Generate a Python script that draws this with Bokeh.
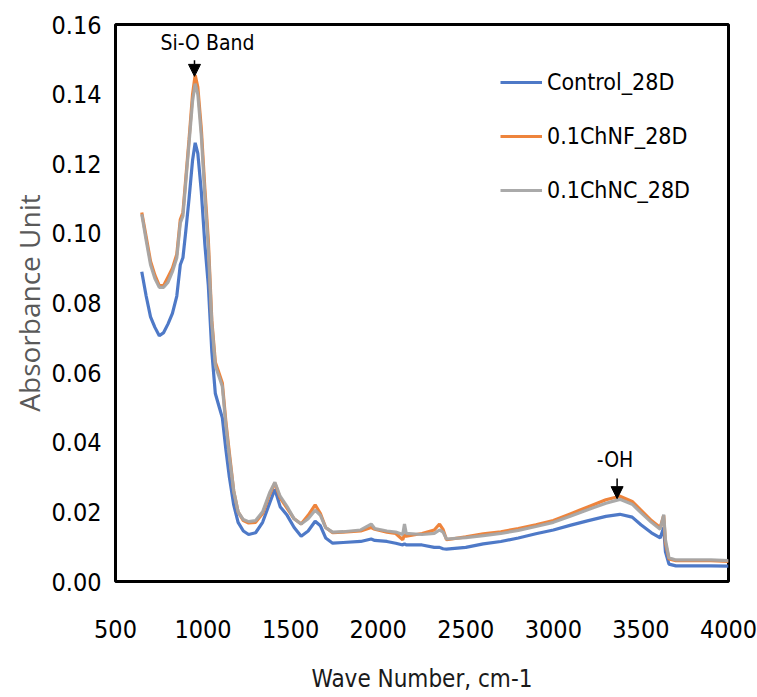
from bokeh.plotting import figure
from bokeh.models import (Range1d, SingleIntervalTicker, NumeralTickFormatter,
                          Legend, LegendItem, Arrow, NormalHead, Label)
from bokeh.embed import file_html
from bokeh.resources import INLINE

# ---------------- data ----------------
wave_number = [650, 675, 700, 725, 750, 775, 800, 825, 850, 870, 885, 900, 920, 940, 955,
               970, 990, 1010, 1030, 1050, 1070, 1090, 1110, 1130, 1150, 1175, 1200, 1230,
               1260, 1300, 1340, 1380, 1410, 1440, 1480, 1520, 1560, 1600, 1640, 1670, 1700,
               1740, 1800, 1900, 1960, 1980, 2050, 2100, 2140, 2150, 2160, 2250, 2320, 2350,
               2370, 2390, 2500, 2600, 2700, 2800, 2900, 3000, 3100, 3200, 3300, 3380, 3450,
               3500, 3560, 3610, 3630, 3640, 3660, 3700, 3800, 3900, 4000]

control_28d = [0.089, 0.082, 0.076, 0.073, 0.0706, 0.0715, 0.074, 0.077, 0.082, 0.091, 0.093,
               0.100, 0.110, 0.121, 0.126, 0.123, 0.112, 0.097, 0.085, 0.066, 0.054, 0.0505,
               0.047, 0.038, 0.030, 0.022, 0.017, 0.0145, 0.0135, 0.014, 0.017, 0.0225, 0.0265,
               0.0215, 0.019, 0.0155, 0.013, 0.0145, 0.0173, 0.016, 0.0125, 0.011, 0.0112,
               0.0115, 0.0122, 0.0118, 0.0115, 0.011, 0.0105, 0.0108, 0.0105, 0.0105, 0.0098,
               0.0098, 0.0094, 0.0093, 0.0098, 0.0108, 0.0115, 0.0125, 0.0137, 0.0148, 0.0162,
               0.0175, 0.0187, 0.0193, 0.0185, 0.0163, 0.014, 0.0125, 0.0155, 0.0085, 0.005,
               0.0045, 0.0045, 0.0045, 0.0044]

chnf_28d = [0.106, 0.099, 0.092, 0.088, 0.085, 0.085, 0.0875, 0.090, 0.094, 0.104, 0.106,
            0.115, 0.127, 0.140, 0.1455, 0.142, 0.130, 0.113, 0.098, 0.075, 0.063, 0.060,
            0.057, 0.046, 0.037, 0.026, 0.020, 0.0175, 0.0168, 0.017, 0.0195, 0.025, 0.0283,
            0.024, 0.021, 0.018, 0.0165, 0.019, 0.022, 0.0195, 0.0155, 0.014, 0.0142, 0.0145,
            0.0155, 0.015, 0.0142, 0.0138, 0.012, 0.0135, 0.013, 0.0138, 0.0148, 0.0165,
            0.015, 0.012, 0.0128, 0.0137, 0.0143, 0.0152, 0.0163, 0.0175, 0.0195, 0.0215,
            0.0235, 0.0245, 0.023, 0.0205, 0.0175, 0.0155, 0.019, 0.011, 0.0065, 0.006,
            0.006, 0.006, 0.0058]

chnc_28d = [0.1055, 0.098, 0.091, 0.087, 0.0845, 0.0845, 0.086, 0.089, 0.093, 0.103, 0.105,
            0.114, 0.126, 0.138, 0.143, 0.140, 0.128, 0.111, 0.096, 0.074, 0.062, 0.059,
            0.056, 0.045, 0.036, 0.026, 0.020, 0.0178, 0.0172, 0.0175, 0.020, 0.0255, 0.0285,
            0.0245, 0.0215, 0.018, 0.0165, 0.018, 0.0205, 0.019, 0.0155, 0.0142, 0.0143,
            0.0148, 0.0165, 0.0152, 0.0145, 0.0142, 0.0135, 0.0165, 0.0138, 0.0135, 0.0138,
            0.0148, 0.0142, 0.0122, 0.0126, 0.0132, 0.0138, 0.0147, 0.0158, 0.017, 0.0188,
            0.0207, 0.0225, 0.0236, 0.0222, 0.0198, 0.017, 0.015, 0.0192, 0.012, 0.0068,
            0.0062, 0.0062, 0.0062, 0.006]

series_names = ["Control_28D", "0.1ChNF_28D", "0.1ChNC_28D"]

ann_labels = ["Si-O Band", "-OH"]
ann_text_x = [1025, 3352]
ann_text_y = [0.1548, 0.0350]
ann_arrow_x = [951, 3364]
ann_arrow_top = [0.1497, 0.0296]
ann_arrow_tip = [0.1451, 0.0238]

# ---------------- styling ----------------
colors = ["#4472C4", "#ED7D31", "#A5A5A5"]
NARROW = "DejaVu Sans Condensed"

p = figure(width=757, height=697, output_backend="svg", toolbar_location=None,
           x_range=Range1d(500, 4000), y_range=Range1d(0, 0.16),
           min_border_left=115, min_border_right=29, min_border_top=24,
           min_border_bottom=116)
p.background_fill_color = "white"
p.border_fill_color = "white"
p.outline_line_color = "black"
p.outline_line_width = 3
p.grid.visible = False

renderers = []
for ys, c in zip([control_28d, chnf_28d, chnc_28d], colors):
    r = p.line(wave_number, ys, line_color=c, line_width=3.2, line_alpha=0.95)
    renderers.append(r)

# axes
p.xaxis.ticker = SingleIntervalTicker(interval=500)
p.yaxis.ticker = SingleIntervalTicker(interval=0.02)
p.yaxis.formatter = NumeralTickFormatter(format="0.00")
for ax in (p.xaxis[0], p.yaxis[0]):
    ax.axis_line_color = None
    ax.major_tick_line_color = None
    ax.minor_tick_line_color = None
    ax.major_tick_out = 0
    ax.major_tick_in = 0
    ax.minor_tick_out = 0
    ax.minor_tick_in = 0
    ax.major_label_text_font = NARROW
    ax.major_label_text_font_size = "25px"
    ax.major_label_text_color = "black"
p.xaxis.major_label_standoff = 38
p.yaxis.major_label_standoff = 14
p.xaxis.axis_label = "Wave Number, cm-1"
p.xaxis.axis_label_text_font = NARROW
p.xaxis.axis_label_text_font_size = "24px"
p.xaxis.axis_label_text_font_style = "normal"
p.xaxis.axis_label_text_color = "#1a1a1a"
p.xaxis.axis_label_standoff = 24
p.yaxis.axis_label = "Absorbance Unit"
p.yaxis.axis_label_text_font = "Open Sans"
p.yaxis.axis_label_text_font_size = "28px"
p.yaxis.axis_label_text_font_style = "normal"
p.yaxis.axis_label_text_color = "#595959"
p.yaxis.axis_label_standoff = 0

# legend
legend = Legend(items=[LegendItem(label=n, renderers=[r]) for n, r in zip(series_names, renderers)],
                location=(385, 378), orientation="vertical",
                label_text_font=NARROW, label_text_font_size="23px",
                label_text_color="black", glyph_width=42, glyph_height=20,
                label_standoff=5, spacing=28, padding=0, margin=0,
                border_line_color=None, background_fill_alpha=0)
p.add_layout(legend, "center")

# annotations
for lab, tx, ty, ax_, top, tip in zip(ann_labels, ann_text_x, ann_text_y,
                                       ann_arrow_x, ann_arrow_top, ann_arrow_tip):
    p.add_layout(Label(x=tx, y=ty, text=lab, text_font=NARROW, text_font_size="21px",
                       text_color="black", text_align="center", text_baseline="middle"))
    p.add_layout(Arrow(x_start=ax_, y_start=top, x_end=ax_, y_end=tip, line_width=1.5,
                       line_color="black",
                       end=NormalHead(size=12, fill_color="black", line_color="black")))

open("out.html", "w").write(file_html(p, INLINE))
